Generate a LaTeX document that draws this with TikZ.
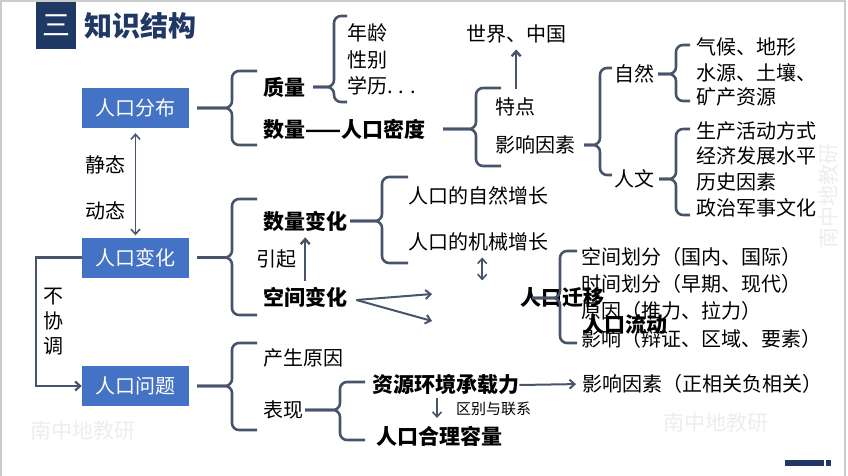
\documentclass[tikz,border=0pt]{standalone}
\usepackage{fontspec}
\setmainfont{Noto Sans CJK SC}
\usetikzlibrary{arrows.meta,calc}
\definecolor{kuang}{RGB}{68,114,196}
\definecolor{shen}{RGB}{32,56,100}
\definecolor{xian}{RGB}{72,84,106}
\tikzset{
    %Define standard arrow tip
    >={Straight Barb[length=5pt,width=9pt]},
    %Define style for boxes
    box/.style={
           rectangle,
           fill=kuang,
           text=white,
           minimum width=107pt,
           minimum height=40pt,
           font=\fontsize{20}{24}\selectfont},
    txt/.style={
           anchor=west,
           inner sep=0pt,
           font=\fontsize{20}{24}\selectfont},
    cu/.style={
           txt,
           font=\fontsize{21}{25}\selectfont\bfseries},
    shui/.style={
           font=\fontsize{21}{25}\selectfont,
           text=black!7},
    % Define line styles
    conn/.style={
           draw=xian,
           line width=2.6pt},
    arr/.style={
           ->,
           draw=xian,
           line width=2pt}
}
% brace: from node, stub start x, brace x, arm end x, top y, bottom y
\newcommand{\kuo}[6]{%
  \coordinate (k1) at (#2,0);
  \coordinate (k2) at (#3,0);
  \draw[conn,rounded corners=7pt] (#1 -| k1) -- (#1 -| k2) -- (#3,#5) -- (#4,#5);
  \draw[conn,rounded corners=7pt] (#1 -| k1) -- (#1 -| k2) -- (#3,#6) -- (#4,#6);}

\begin{document}
\begin{tikzpicture}[x=1pt,y=-1pt]
\useasboundingbox (0,0) rectangle (848,476);
\draw[gray!40,line width=1.5pt] (1,476) -- (1,1) -- (845,1) -- (845,476);

% title
\node[fill=shen,text=white,minimum width=40pt,minimum height=47pt,
      font=\fontsize{28}{30}\selectfont] (san) at (56,25.5) {三};
\node[txt,text=shen,font=\fontsize{28}{30}\selectfont\bfseries] (biaoti) at (84,26) {知识结构};

% watermarks
\node[shui] (shui1) at (83,431) {南中地教研};
\node[shui] (shui2) at (716,423) {南中地教研};
\node[shui,rotate=90] (shui3) at (829,196) {南中地教研};

% main boxes
\node[box] (fenbu) at (135.5,108) {人口分布};
\node[box] (bianhua) at (135.5,257.5) {人口变化};
\node[box] (wenti) at (135.5,386) {人口问题};

\node[txt] (jingtai) at (85,165) {静态};
\node[txt] (dongtai) at (85,211) {动态};
\node[txt,align=center,font=\fontsize{20}{25}\selectfont] (buxie) at (43,322) {不\\协\\调};

% distribution
\node[cu] (zhiliang) at (263,87) {质量};
\node[cu] (shuliang) at (263,129) {数量——人口密度};
\node[txt] (nianling) at (347,33) {年龄};
\node[txt] (xingbie) at (347,60) {性别};
\node[txt] (xueli) at (347,86) {学历. . .};
\node[txt] (tedian) at (495,107) {特点};
\node[txt] (yingxiang) at (495,145) {影响因素};
\node[txt] (shijie) at (466,34) {世界、中国};
\node[txt] (ziran) at (614,74) {自然};
\node[txt] (renwen) at (614,179) {人文};
\node[txt] (qihou) at (696,47) {气候、地形};
\node[txt] (shuiyuan) at (696,73) {水源、土壤、};
\node[txt] (kuangchan) at (696,97) {矿产资源};
\node[txt] (shengchan) at (696,131) {生产活动方式};
\node[txt] (jingji) at (696,156) {经济发展水平};
\node[txt] (lishi) at (696,182) {历史因素};
\node[txt] (zhengzhi) at (696,208) {政治军事文化};

% change
\node[cu] (slbh) at (263,221) {数量变化};
\node[cu] (kjbh) at (263,297) {空间变化};
\node[txt] (yinqi) at (256,259) {引起};
\node[txt] (zirzz) at (408,196) {人口的自然增长};
\node[txt] (jixzz) at (408,242) {人口的机械增长};
\node[txt] (kongjian) at (581,257) {空间划分（国内、国际）};
\node[txt] (shijian) at (581,284) {时间划分（早期、现代）};
\node[txt] (yuanyin) at (581,311) {原因（推力、拉力）};
\node[txt] (yingx) at (581,339) {影响（辩证、区域、要素）};
\node[cu] (qianyi) at (520,298) {人口迁移};
\node[cu] (liudong) at (583,324) {人口流动};
\coordinate (q1) at (432,294);
\coordinate (q2) at (432,321);

% problems
\node[txt] (chansheng) at (263,358) {产生原因};
\node[txt] (biaoxian) at (263,410) {表现};
\node[cu] (ziyuan) at (372,385) {资源环境承载力};
\node[cu] (heli) at (376,436) {人口合理容量};
\node[txt] (yinsu) at (582,384) {影响因素（正相关负相关）};
\node[txt,font=\fontsize{15}{18}\selectfont] (qubie) at (456,409) {区别与联系};

% braces
\kuo{fenbu.east}{197}{232}{257}{71}{145}
\kuo{zhiliang.east}{313}{334}{347}{16}{102}
\kuo{shuliang.east}{443}{476}{501}{88}{166}
\kuo{yingxiang.east}{584}{600}{612}{68}{175}
\kuo{ziran.east}{658}{676}{690}{45}{101}
\kuo{renwen.east}{659}{676}{690}{129}{215}
\kuo{bianhua.east}{197}{232}{257}{199}{315}
\kuo{slbh.east}{350}{382}{408}{177}{263}
\kuo{qianyi.east}{532}{560}{577}{251}{343}
\kuo{wenti.east}{197}{232}{257}{343}{430}
\kuo{biaoxian.east}{305}{340}{365}{382}{440}

% arrows
\draw[arr,<->,line width=1.6pt,shorten <=5pt,shorten >=2pt] (fenbu.south) -- (bianhua.north);
\draw[conn,line width=2.2pt,->] (bianhua.west) -- ++(-46,0) |- (wenti.west);
\draw[arr,line width=2.4pt,shorten <=9pt,shorten >=6pt] (shijie.south |- tedian.north) -- (shijie.south);
\draw[arr,line width=2.4pt,shorten <=6pt,shorten >=6pt] (kjbh.north) -- (slbh.south);
\draw[arr] ([xshift=9pt,yshift=-3pt]kjbh.east) -- (q1);
\draw[arr] ([xshift=9pt,yshift=-3pt]kjbh.east) -- (q2);
\draw[arr,<->,line width=1.6pt] (jixzz.south) ++(4,6) -- ++(0,23);
\draw[arr,shorten >=6pt] (ziyuan.east) -- (yinsu.west);
\draw[arr,line width=1.6pt] (qubie.west) ++(-19,-11) -- ++(0,20);

% bottom bar
\fill[shen] (785,460) rectangle (824,466);
\fill[shen] (826,460) rectangle (831,466);
\end{tikzpicture}
\end{document}
